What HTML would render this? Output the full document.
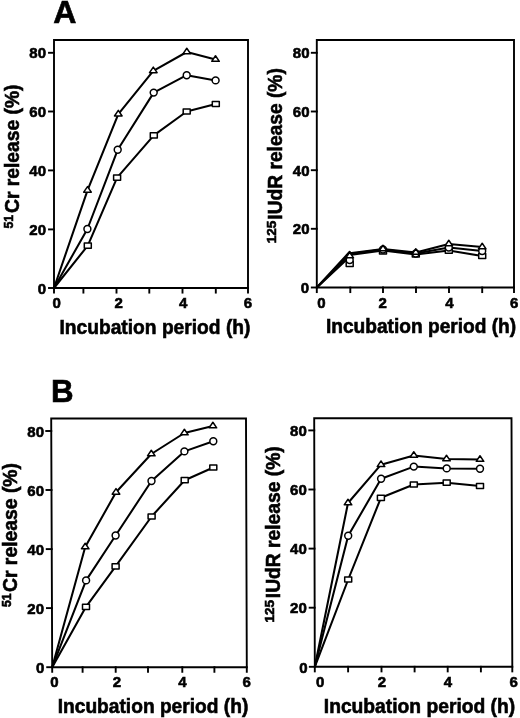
<!DOCTYPE html>
<html><head><meta charset="utf-8"><style>
html,body{margin:0;padding:0;background:#fff;}
svg{display:block;filter:blur(0.35px);}
text{font-family:"Liberation Sans", sans-serif;font-weight:bold;fill:#000;stroke:#000;stroke-width:0.6px;}
.tk{font-size:15.0px;}
.tt{font-size:20.0px;}
.sp{font-size:13px;}
.pl{font-size:30.5px;}
.ax{fill:none;stroke:#000;stroke-width:1.9;stroke-linecap:square;}
.ln{fill:none;stroke:#000;stroke-width:2.05;stroke-linejoin:round;}
.m{fill:#fff;stroke:#000;stroke-width:1.5;stroke-linejoin:round;}
</style></head><body>
<svg width="520" height="718" viewBox="0 0 520 718">
<rect width="520" height="718" fill="#fff"/>
<text x="53.30" y="22.90" class="pl" textLength="23.20" lengthAdjust="spacingAndGlyphs">A</text>
<text x="51.10" y="401.90" class="pl" textLength="22.60" lengthAdjust="spacingAndGlyphs">B</text>
<path d="M54,40L248,40L248,288L54,288Z" class="ax"/>
<path d="M49.00,52.8H54.00" class="ax"/>
<path d="M49.00,111.5H54.00" class="ax"/>
<path d="M49.00,170.4H54.00" class="ax"/>
<path d="M49.00,229.4H54.00" class="ax"/>
<path d="M49.00,288H54.00" class="ax"/>
<path d="M54,288V292.6" class="ax"/>
<path d="M83.4,288V292.6" class="ax"/>
<path d="M116.5,288V292.6" class="ax"/>
<path d="M149.3,288V292.6" class="ax"/>
<path d="M182.5,288V292.6" class="ax"/>
<path d="M215.8,288V292.6" class="ax"/>
<path d="M248,288V292.6" class="ax"/>
<polyline points="54.00,288.00 87.80,245.60 117.10,177.70 153.80,135.30 186.70,111.50 215.80,104.00" class="ln"/>
<polyline points="54.00,288.00 87.40,229.00 117.70,149.80 153.70,92.60 186.70,75.20 215.60,80.40" class="ln"/>
<polyline points="54.00,288.00 87.50,190.30 118.30,114.10 153.30,70.80 186.80,52.00 215.50,59.50" class="ln"/>
<rect x="84.30" y="243.00" width="7.0" height="5.2" class="m"/>
<rect x="113.60" y="175.10" width="7.0" height="5.2" class="m"/>
<rect x="150.30" y="132.70" width="7.0" height="5.2" class="m"/>
<rect x="183.20" y="108.90" width="7.0" height="5.2" class="m"/>
<rect x="212.30" y="101.40" width="7.0" height="5.2" class="m"/>
<circle cx="87.40" cy="229.00" r="3.45" class="m"/>
<circle cx="117.70" cy="149.80" r="3.45" class="m"/>
<circle cx="153.70" cy="92.60" r="3.45" class="m"/>
<circle cx="186.70" cy="75.20" r="3.45" class="m"/>
<circle cx="215.60" cy="80.40" r="3.45" class="m"/>
<polygon points="87.50,186.55 91.30,192.17 83.70,192.17" class="m"/>
<polygon points="118.30,110.35 122.10,115.97 114.50,115.97" class="m"/>
<polygon points="153.30,67.05 157.10,72.67 149.50,72.67" class="m"/>
<polygon points="186.80,48.25 190.60,53.87 183.00,53.87" class="m"/>
<polygon points="215.50,55.75 219.30,61.37 211.70,61.37" class="m"/>
<text x="46" y="58" class="tk" text-anchor="end">80</text>
<text x="46" y="117" class="tk" text-anchor="end">60</text>
<text x="46" y="176" class="tk" text-anchor="end">40</text>
<text x="46" y="235" class="tk" text-anchor="end">20</text>
<text x="46" y="294" class="tk" text-anchor="end">0</text>
<text x="56.7" y="307.5" class="tk" text-anchor="middle">0</text>
<text x="118.6" y="307.5" class="tk" text-anchor="middle">2</text>
<text x="183.2" y="307.5" class="tk" text-anchor="middle">4</text>
<text x="247.9" y="307.5" class="tk" text-anchor="middle">6</text>
<text x="59.50" y="333.60" class="tt" textLength="190.90" lengthAdjust="spacingAndGlyphs">Incubation period (h)</text>
<g transform="translate(18.7,228.5) rotate(-90)"><text x="0.00" y="-6.00" class="sp" textLength="13.50" lengthAdjust="spacingAndGlyphs">51</text><text x="15.50" y="0.00" class="tt" textLength="128.50" lengthAdjust="spacingAndGlyphs">Cr release (%)</text></g>
<path d="M316.8,40L514,40L514,287.5L316.8,287.5Z" class="ax"/>
<path d="M311.80,52.8H316.80" class="ax"/>
<path d="M311.80,111.5H316.80" class="ax"/>
<path d="M311.80,170.2H316.80" class="ax"/>
<path d="M311.80,228.8H316.80" class="ax"/>
<path d="M311.80,287.5H316.80" class="ax"/>
<path d="M316.8,287.5V292.1" class="ax"/>
<path d="M350.3,287.5V292.1" class="ax"/>
<path d="M383,287.5V292.1" class="ax"/>
<path d="M416,287.5V292.1" class="ax"/>
<path d="M449,287.5V292.1" class="ax"/>
<path d="M482.2,287.5V292.1" class="ax"/>
<path d="M514,287.5V292.1" class="ax"/>
<polyline points="316.80,287.50 349.70,256.80 349.70,254.90 383.00,250.50 415.80,254.50 448.80,250.60 482.20,256.00" class="ln"/>
<polyline points="316.80,287.50 349.70,254.30 349.70,254.10 383.00,249.50 415.80,253.50 448.80,247.50 482.20,251.00" class="ln"/>
<polyline points="316.80,287.50 349.70,251.80 349.70,253.30 383.00,249.00 415.80,252.50 448.80,244.00 482.20,247.00" class="ln"/>
<rect x="346.20" y="261.20" width="7.0" height="5.2" class="m"/>
<rect x="379.50" y="248.80" width="7.0" height="5.2" class="m"/>
<rect x="412.30" y="251.90" width="7.0" height="5.2" class="m"/>
<rect x="445.30" y="248.00" width="7.0" height="5.2" class="m"/>
<rect x="478.70" y="253.40" width="7.0" height="5.2" class="m"/>
<circle cx="349.70" cy="260.00" r="3.45" class="m"/>
<circle cx="383.00" cy="249.50" r="3.45" class="m"/>
<circle cx="415.80" cy="253.50" r="3.45" class="m"/>
<circle cx="448.80" cy="247.50" r="3.45" class="m"/>
<circle cx="482.20" cy="251.00" r="3.45" class="m"/>
<polygon points="349.70,252.25 353.50,257.87 345.90,257.87" class="m"/>
<polygon points="383.00,245.25 386.80,250.87 379.20,250.87" class="m"/>
<polygon points="415.80,248.75 419.60,254.37 412.00,254.37" class="m"/>
<polygon points="448.80,240.25 452.60,245.87 445.00,245.87" class="m"/>
<polygon points="482.20,243.25 486.00,248.87 478.40,248.87" class="m"/>
<text x="309.5" y="58" class="tk" text-anchor="end">80</text>
<text x="309.5" y="117" class="tk" text-anchor="end">60</text>
<text x="309.5" y="176" class="tk" text-anchor="end">40</text>
<text x="309.5" y="234" class="tk" text-anchor="end">20</text>
<text x="309" y="293" class="tk" text-anchor="end">0</text>
<text x="321.3" y="307.5" class="tk" text-anchor="middle">0</text>
<text x="382.7" y="307.5" class="tk" text-anchor="middle">2</text>
<text x="449.3" y="307.5" class="tk" text-anchor="middle">4</text>
<text x="514.2" y="307.5" class="tk" text-anchor="middle">6</text>
<text x="325.90" y="333.10" class="tt" textLength="190.30" lengthAdjust="spacingAndGlyphs">Incubation period (h)</text>
<g transform="translate(282.2,243.3) rotate(-90)"><text x="0.00" y="-6.00" class="sp" textLength="22.50" lengthAdjust="spacingAndGlyphs">125</text><text x="23.60" y="0.00" class="tt" textLength="151.50" lengthAdjust="spacingAndGlyphs">IUdR release (%)</text></g>
<path d="M51.2,418.5L246.0,418.5L246.8,667.2L52.2,667.2Z" class="ax"/>
<path d="M46.25,431H51.25" class="ax"/>
<path d="M46.49,490H51.49" class="ax"/>
<path d="M46.73,549.1H51.73" class="ax"/>
<path d="M46.96,608.1H51.96" class="ax"/>
<path d="M47.20,667.2H52.20" class="ax"/>
<path d="M52.2,667.2V671.8000000000001" class="ax"/>
<path d="M82.6,667.2V671.8000000000001" class="ax"/>
<path d="M115.7,667.2V671.8000000000001" class="ax"/>
<path d="M148,667.2V671.8000000000001" class="ax"/>
<path d="M182.3,667.2V671.8000000000001" class="ax"/>
<path d="M214.4,667.2V671.8000000000001" class="ax"/>
<path d="M246.8,667.2V671.8000000000001" class="ax"/>
<polyline points="52.20,667.20 86.00,606.80 115.60,566.30 151.60,516.50 184.70,480.20 213.30,467.50" class="ln"/>
<polyline points="52.20,667.20 86.10,580.40 115.60,535.50 151.50,481.00 184.40,451.40 213.30,441.30" class="ln"/>
<polyline points="52.20,667.20 85.20,547.00 116.00,492.30 151.30,454.00 184.40,433.00 212.90,426.00" class="ln"/>
<rect x="82.50" y="604.20" width="7.0" height="5.2" class="m"/>
<rect x="112.10" y="563.70" width="7.0" height="5.2" class="m"/>
<rect x="148.10" y="513.90" width="7.0" height="5.2" class="m"/>
<rect x="181.20" y="477.60" width="7.0" height="5.2" class="m"/>
<rect x="209.80" y="464.90" width="7.0" height="5.2" class="m"/>
<circle cx="86.10" cy="580.40" r="3.45" class="m"/>
<circle cx="115.60" cy="535.50" r="3.45" class="m"/>
<circle cx="151.50" cy="481.00" r="3.45" class="m"/>
<circle cx="184.40" cy="451.40" r="3.45" class="m"/>
<circle cx="213.30" cy="441.30" r="3.45" class="m"/>
<polygon points="85.20,543.25 89.00,548.87 81.40,548.87" class="m"/>
<polygon points="116.00,488.55 119.80,494.17 112.20,494.17" class="m"/>
<polygon points="151.30,450.25 155.10,455.87 147.50,455.87" class="m"/>
<polygon points="184.40,429.25 188.20,434.87 180.60,434.87" class="m"/>
<polygon points="212.90,422.25 216.70,427.87 209.10,427.87" class="m"/>
<text x="44" y="436.5" class="tk" text-anchor="end">80</text>
<text x="44" y="495.5" class="tk" text-anchor="end">60</text>
<text x="44" y="554.5" class="tk" text-anchor="end">40</text>
<text x="44" y="613.5" class="tk" text-anchor="end">20</text>
<text x="44.4" y="673" class="tk" text-anchor="end">0</text>
<text x="54.5" y="687.3" class="tk" text-anchor="middle">0</text>
<text x="117" y="687.3" class="tk" text-anchor="middle">2</text>
<text x="182.5" y="687.3" class="tk" text-anchor="middle">4</text>
<text x="246.6" y="687.3" class="tk" text-anchor="middle">6</text>
<text x="57.70" y="713.10" class="tt" textLength="190.60" lengthAdjust="spacingAndGlyphs">Incubation period (h)</text>
<g transform="translate(16.6,607) rotate(-90)"><text x="0.00" y="-6.00" class="sp" textLength="13.50" lengthAdjust="spacingAndGlyphs">51</text><text x="15.00" y="0.00" class="tt" textLength="129.00" lengthAdjust="spacingAndGlyphs">Cr release (%)</text></g>
<path d="M314.2,418.2L511.5,418.2L512.3,666.8L314.8,666.8Z" class="ax"/>
<path d="M309.23,430.4H314.23" class="ax"/>
<path d="M309.37,489.5H314.37" class="ax"/>
<path d="M309.51,548.6H314.51" class="ax"/>
<path d="M309.66,607.7H314.66" class="ax"/>
<path d="M309.80,666.8H314.80" class="ax"/>
<path d="M314.8,666.8V671.4" class="ax"/>
<path d="M348.1,666.8V671.4" class="ax"/>
<path d="M381.5,666.8V671.4" class="ax"/>
<path d="M414.6,666.8V671.4" class="ax"/>
<path d="M447.7,666.8V671.4" class="ax"/>
<path d="M480.9,666.8V671.4" class="ax"/>
<path d="M512.3,666.8V671.4" class="ax"/>
<polyline points="314.80,666.80 348.20,579.50 380.90,497.80 413.80,484.50 446.70,482.70 480.00,486.00" class="ln"/>
<polyline points="314.80,666.80 348.20,535.80 381.10,478.70 413.80,466.60 446.70,468.40 480.00,468.70" class="ln"/>
<polyline points="314.80,666.80 348.00,503.00 381.00,464.70 413.80,455.50 446.50,459.00 480.00,459.50" class="ln"/>
<rect x="344.70" y="576.90" width="7.0" height="5.2" class="m"/>
<rect x="377.40" y="495.20" width="7.0" height="5.2" class="m"/>
<rect x="410.30" y="481.90" width="7.0" height="5.2" class="m"/>
<rect x="443.20" y="480.10" width="7.0" height="5.2" class="m"/>
<rect x="476.50" y="483.40" width="7.0" height="5.2" class="m"/>
<circle cx="348.20" cy="535.80" r="3.45" class="m"/>
<circle cx="381.10" cy="478.70" r="3.45" class="m"/>
<circle cx="413.80" cy="466.60" r="3.45" class="m"/>
<circle cx="446.70" cy="468.40" r="3.45" class="m"/>
<circle cx="480.00" cy="468.70" r="3.45" class="m"/>
<polygon points="348.00,499.25 351.80,504.87 344.20,504.87" class="m"/>
<polygon points="381.00,460.95 384.80,466.57 377.20,466.57" class="m"/>
<polygon points="413.80,451.75 417.60,457.37 410.00,457.37" class="m"/>
<polygon points="446.50,455.25 450.30,460.87 442.70,460.87" class="m"/>
<polygon points="480.00,455.75 483.80,461.37 476.20,461.37" class="m"/>
<text x="306.8" y="436" class="tk" text-anchor="end">80</text>
<text x="306.8" y="495" class="tk" text-anchor="end">60</text>
<text x="306.8" y="554" class="tk" text-anchor="end">40</text>
<text x="306.8" y="613" class="tk" text-anchor="end">20</text>
<text x="307.6" y="672.8" class="tk" text-anchor="end">0</text>
<text x="320.2" y="687.3" class="tk" text-anchor="middle">0</text>
<text x="381.9" y="687.3" class="tk" text-anchor="middle">2</text>
<text x="448" y="687.3" class="tk" text-anchor="middle">4</text>
<text x="513.7" y="687.3" class="tk" text-anchor="middle">6</text>
<text x="323.80" y="712.60" class="tt" textLength="191.40" lengthAdjust="spacingAndGlyphs">Incubation period (h)</text>
<g transform="translate(280.2,622.5) rotate(-90)"><text x="0.00" y="-6.00" class="sp" textLength="22.50" lengthAdjust="spacingAndGlyphs">125</text><text x="24.30" y="0.00" class="tt" textLength="151.90" lengthAdjust="spacingAndGlyphs">IUdR release (%)</text></g>
</svg>
</body></html>
